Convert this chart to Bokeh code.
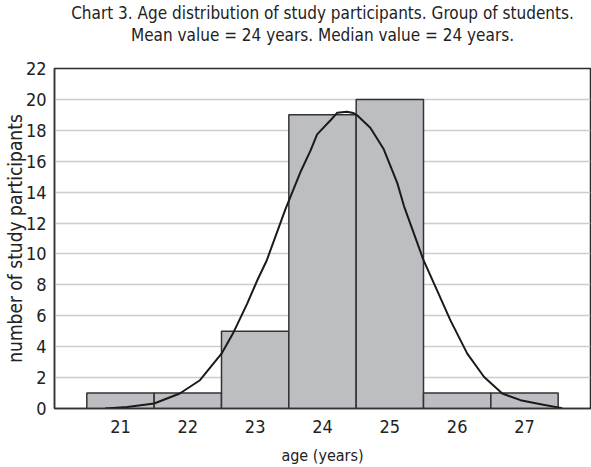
from bokeh.plotting import figure
from bokeh.models import FixedTicker, Range1d, Title
from bokeh.embed import file_html
from bokeh.resources import INLINE

# Age histogram of the student group
ages = [21, 22, 23, 24, 25, 26, 27]
counts = [1, 1, 5, 19, 20, 1, 1]

# Fitted distribution curve (age, participants)
curve_age = [20.77, 21.10, 21.50, 21.88, 22.18, 22.50, 22.68, 22.88, 23.03, 23.17,
             23.45, 23.68, 23.82, 23.92, 24.13, 24.22, 24.36, 24.46, 24.51, 24.71,
             24.91, 25.11, 25.21, 25.50, 25.68, 25.90, 26.15, 26.40, 26.67, 26.94,
             27.24, 27.56]
curve_n = [0.0, 0.1, 0.32, 0.97, 1.83, 3.55, 4.94, 6.77, 8.28, 9.56,
           12.9, 15.37, 16.67, 17.74, 18.7, 19.14, 19.2, 19.12, 18.99, 18.17,
           16.77, 14.6, 13.1, 9.6, 7.85, 5.7, 3.55, 2.04, 0.97, 0.54,
           0.28, 0.02]

y_ticks = list(range(0, 23, 2))

title_1 = "Chart 3. Age distribution of study participants. Group of students."
title_2 = "Mean value = 24 years. Median value = 24 years."
x_label = "age (years)"
y_label = "number of study participants"

FONT = "DejaVu Sans Condensed"
TEXT = "#222222"

p = figure(width=591, height=467, output_backend="svg", toolbar_location=None,
           x_range=Range1d(20.02, 27.98), y_range=Range1d(0, 22),
           min_border_left=0, min_border_right=1, min_border_top=0,
           min_border_bottom=0)
p.title = None
p.background_fill_color = "white"
p.border_fill_color = "white"
p.outline_line_color = "#2a2a2a"
p.outline_line_width = 1.5

# blank strip between the two-line heading and the frame
p.add_layout(Title(text=" ", text_font=FONT, text_font_size="1px", standoff=21), "above")
for txt in (title_2, title_1):
    p.add_layout(Title(text=txt, align="center", text_font=FONT,
                       text_font_size="17px", text_font_style="normal",
                       text_color=TEXT, standoff=0), "above")

p.vbar(x=ages, top=counts, width=1.0, bottom=0, fill_color="#bdbec2",
       line_color="#333333", line_width=1.5)
p.line(curve_age, curve_n, line_color="#1a1a1a", line_width=2, line_join="round")

p.xgrid.visible = False
p.ygrid.ticker = FixedTicker(ticks=y_ticks)
p.ygrid.grid_line_color = "#cccccc"
p.ygrid.grid_line_width = 1.5

p.yaxis.ticker = FixedTicker(ticks=y_ticks)
p.xaxis.ticker = FixedTicker(ticks=ages)
for ax in (p.xaxis[0], p.yaxis[0]):
    ax.major_tick_in = 0
    ax.major_tick_out = 0
    ax.minor_tick_in = 0
    ax.minor_tick_out = 0
    ax.major_label_text_font = FONT
    ax.major_label_text_font_size = "18px"
    ax.major_label_text_color = TEXT
    ax.axis_label_text_font = FONT
    ax.axis_label_text_font_style = "normal"
    ax.axis_label_text_color = TEXT
    ax.axis_line_color = "#333333"
    ax.axis_line_width = 1.5

p.xaxis.axis_label = x_label
p.yaxis.axis_label = y_label
p.xaxis.axis_label_text_font_size = "16px"
p.yaxis.axis_label_text_font_size = "19px"
p.xaxis.major_label_standoff = 11
p.yaxis.major_label_standoff = 8
p.xaxis.axis_label_standoff = 10
p.yaxis.axis_label_standoff = -3

open("out.html", "w").write(file_html(p, INLINE))
